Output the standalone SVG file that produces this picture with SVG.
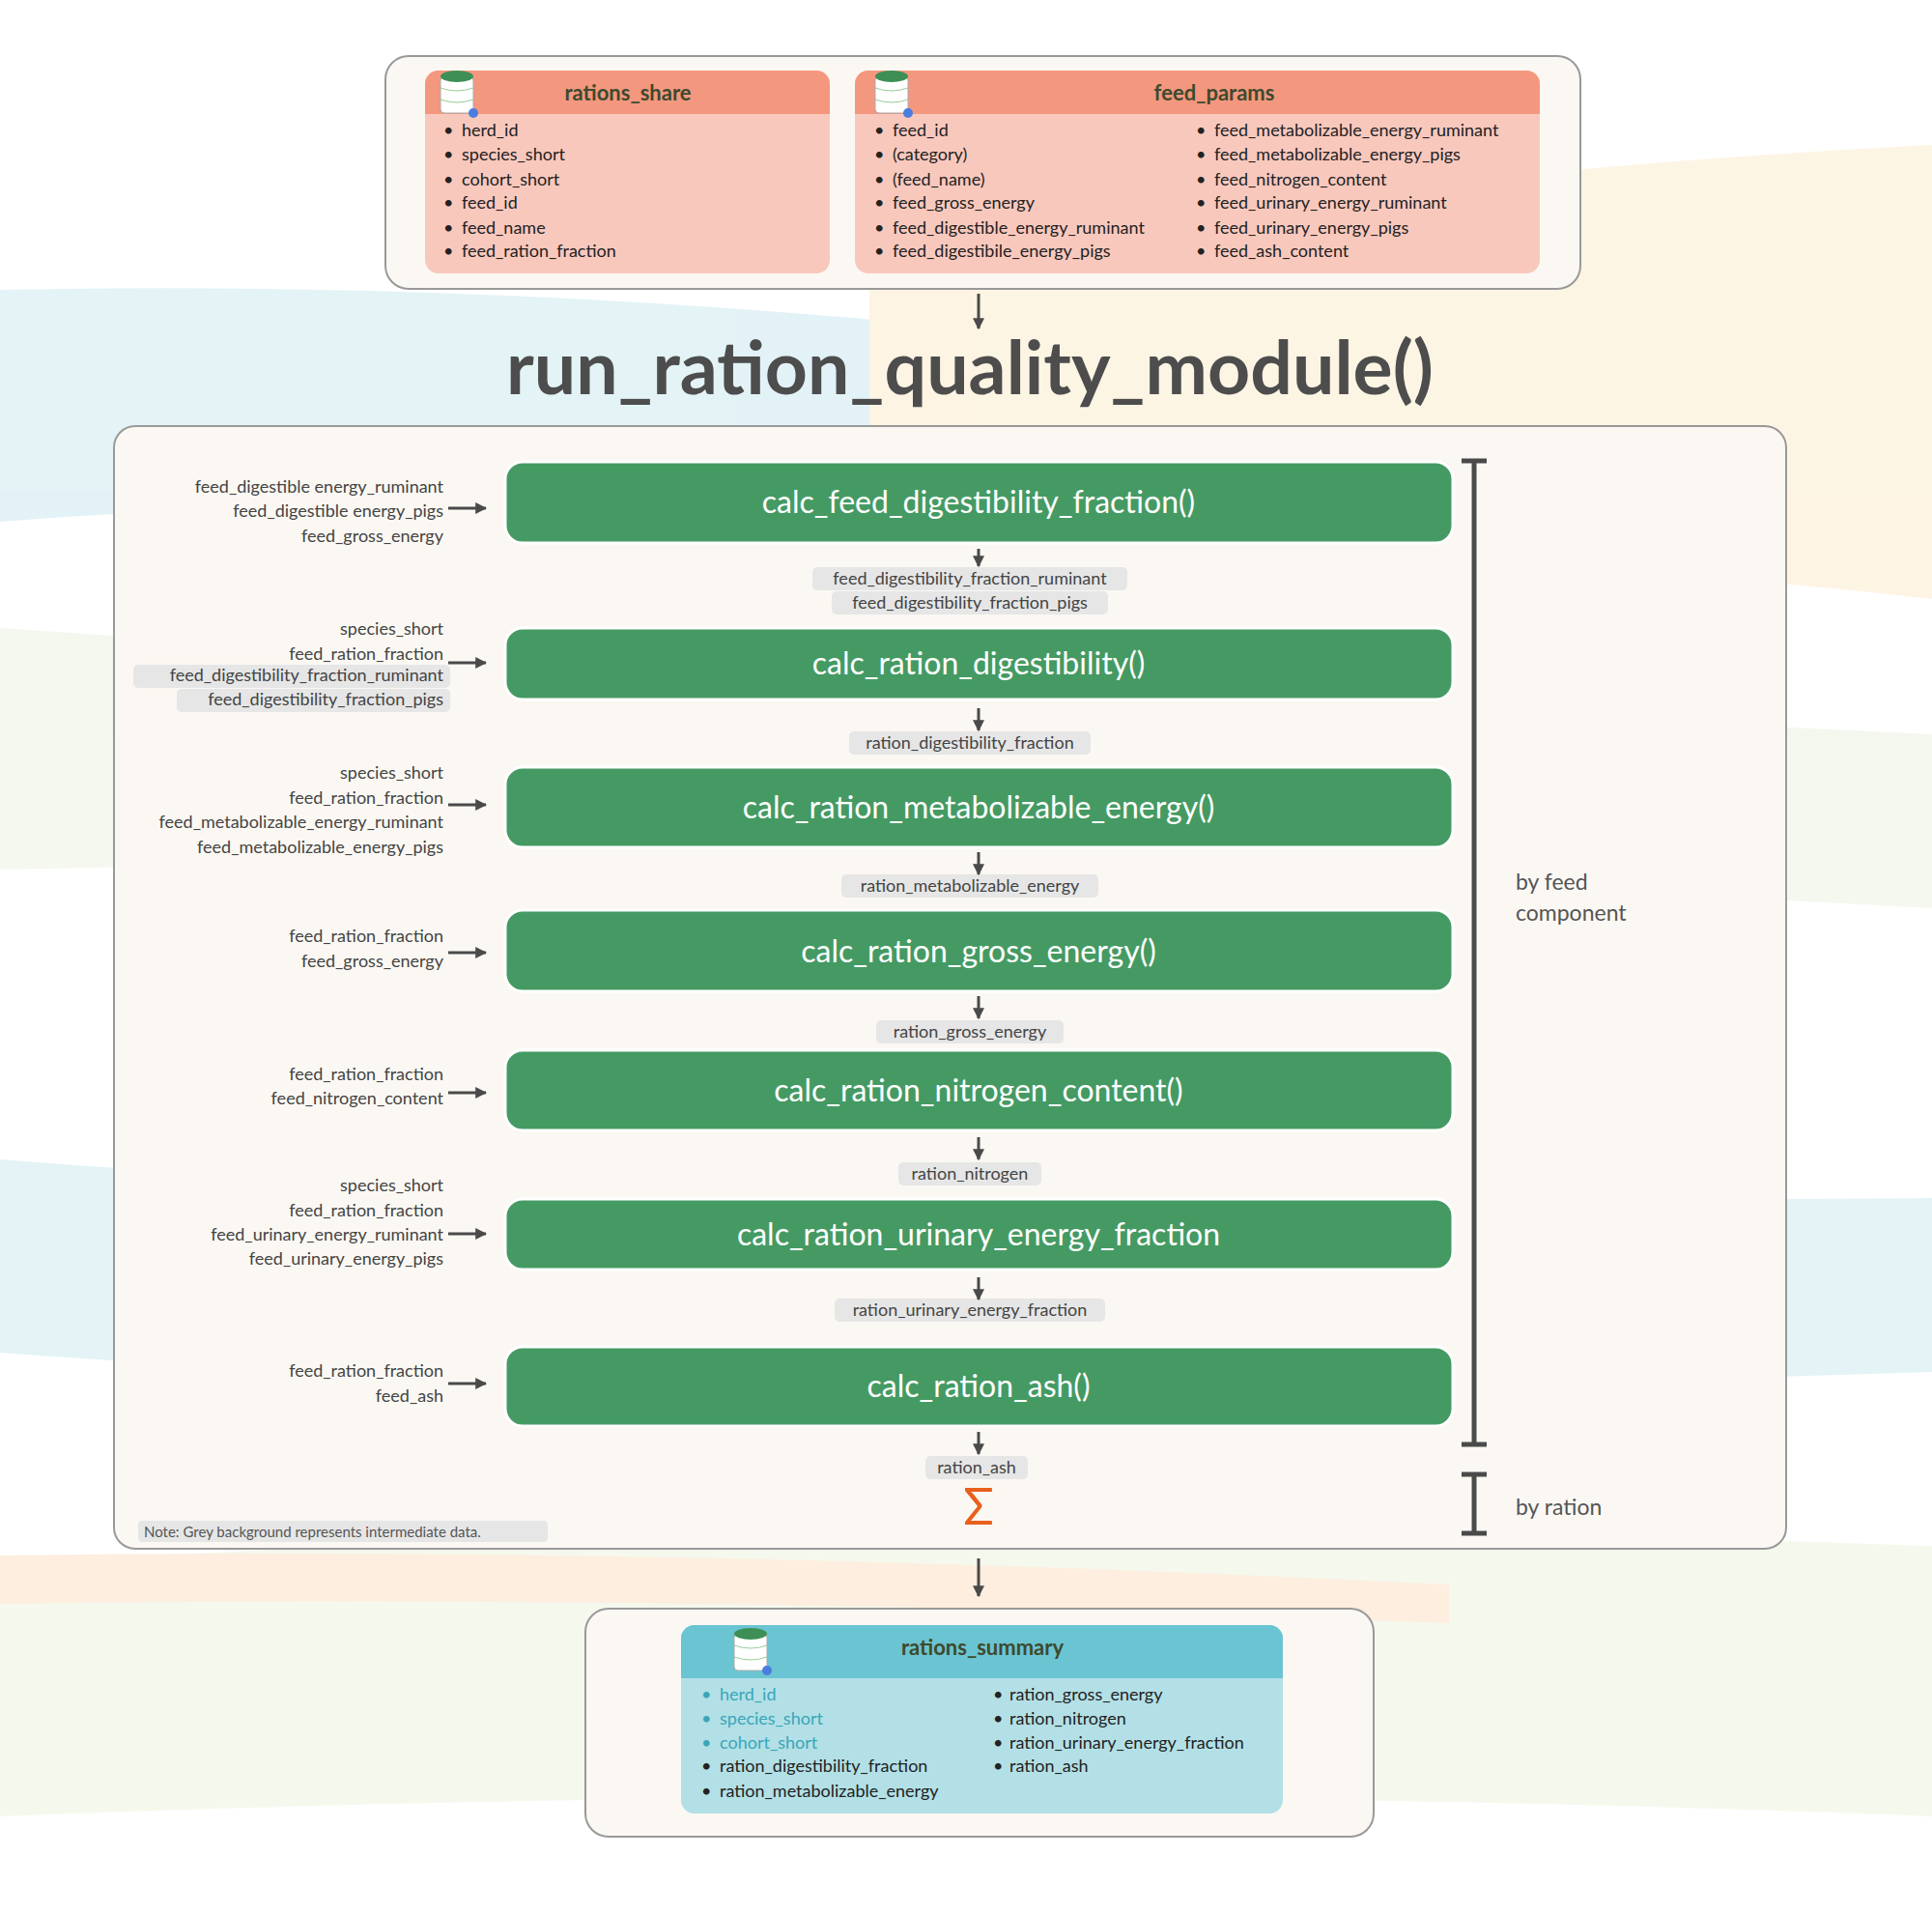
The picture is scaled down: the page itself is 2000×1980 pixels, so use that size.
<svg xmlns="http://www.w3.org/2000/svg" width="2000" height="1980" viewBox="0 0 2000 1980">
<defs>
<style>
text{font-family:Lato,"Noto Sans",sans-serif;}
.it{font-size:18px;fill:#222;}
.in{font-size:18px;fill:#444;text-anchor:end;}
.lbl{font-size:18px;fill:#444;text-anchor:middle;}
.pill{fill:#e6e6e6;}
.fn{font-size:32px;fill:#fff;text-anchor:middle;dominant-baseline:central;}
.hd{font-size:22px;font-weight:bold;fill:#3d4a2e;text-anchor:middle;}
.box{fill:#fbf8f3;stroke:#999;stroke-width:2;}
.green{fill:#459a63;stroke:#fff;stroke-width:3;}
.conn{stroke:#4a4a4a;stroke-width:3;fill:none;}
.side{font-size:23px;fill:#555;}
</style>
<marker id="ah" viewBox="0 0 10 10" refX="9" refY="5" markerWidth="4" markerHeight="4" orient="auto"><path d="M0,0 L10,5 L0,10 z" fill="#4a4a4a"/></marker>
<g id="db">
<rect x="-17" y="-20" width="34" height="38" rx="4" fill="#fff" stroke="#aaa"/>
<ellipse cx="0" cy="-20" rx="17" ry="6" fill="#3d8f55"/>
<path d="M-17,-8 Q0,-2 17,-8 M-17,4 Q0,10 17,4" stroke="#9c9" fill="none"/>
<circle cx="17" cy="18" r="5" fill="#4a7de0"/>
</g>
</defs>
<rect width="2000" height="1980" fill="#fff"/>
<g id="background" opacity="0.8">
<path d="M0,300 Q500,290 1000,340 L1000,560 Q500,500 0,540 Z" fill="#dcf0f4"/>
<path d="M900,280 Q1400,180 2000,150 L2000,620 Q1500,560 900,600 Z" fill="#fdf2dd"/>
<path d="M0,650 Q700,700 2000,760 L2000,940 Q900,880 0,900 Z" fill="#f1f6ea"/>
<path d="M0,1200 Q600,1250 2000,1240 L2000,1420 Q800,1460 0,1400 Z" fill="#dcf0f4"/>
<path d="M0,1620 Q900,1560 2000,1600 L2000,1880 Q1000,1840 0,1880 Z" fill="#f3f7e9"/>
<path d="M0,1610 Q700,1600 1500,1640 L1500,1680 Q700,1650 0,1660 Z" fill="#fdebd8"/>
</g>
<g id="inputs">
<rect class="box" x="399" y="58" width="1237" height="241" rx="24"/>
<g id="rations_share">
<rect x="440" y="73" width="419" height="210" rx="14" fill="#f9c8bd"/>
<path d="M440,118 V87 a14,14 0 0 1 14,-14 H845 a14,14 0 0 1 14,14 V118 Z" fill="#f4977f"/>
<use href="#db" x="473" y="99"/>
<text class="hd" x="650" y="104">rations_share</text>
<g class="it">
<text x="459" y="141">•</text><text x="478" y="141">herd_id</text>
<text x="459" y="166">•</text><text x="478" y="166">species_short</text>
<text x="459" y="192">•</text><text x="478" y="192">cohort_short</text>
<text x="459" y="216">•</text><text x="478" y="216">feed_id</text>
<text x="459" y="242">•</text><text x="478" y="242">feed_name</text>
<text x="459" y="266">•</text><text x="478" y="266">feed_ration_fraction</text>
</g>
</g>
<g id="feed_params">
<rect x="885" y="73" width="709" height="210" rx="14" fill="#f9c8bd"/>
<path d="M885,118 V87 a14,14 0 0 1 14,-14 H1580 a14,14 0 0 1 14,14 V118 Z" fill="#f4977f"/>
<use href="#db" x="923" y="99"/>
<text class="hd" x="1257" y="104">feed_params</text>
<g class="it">
<text x="905" y="141">•</text><text x="924" y="141">feed_id</text>
<text x="905" y="166">•</text><text x="924" y="166">(category)</text>
<text x="905" y="192">•</text><text x="924" y="192">(feed_name)</text>
<text x="905" y="216">•</text><text x="924" y="216">feed_gross_energy</text>
<text x="905" y="242">•</text><text x="924" y="242">feed_digestible_energy_ruminant</text>
<text x="905" y="266">•</text><text x="924" y="266">feed_digestibile_energy_pigs</text>
<text x="1238" y="141">•</text><text x="1257" y="141">feed_metabolizable_energy_ruminant</text>
<text x="1238" y="166">•</text><text x="1257" y="166">feed_metabolizable_energy_pigs</text>
<text x="1238" y="192">•</text><text x="1257" y="192">feed_nitrogen_content</text>
<text x="1238" y="216">•</text><text x="1257" y="216">feed_urinary_energy_ruminant</text>
<text x="1238" y="242">•</text><text x="1257" y="242">feed_urinary_energy_pigs</text>
<text x="1238" y="266">•</text><text x="1257" y="266">feed_ash_content</text>
</g>
</g>
</g>
<text id="title" x="1004" y="408" font-size="77" font-weight="bold" fill="#4d4d4d" text-anchor="middle">run_ration_quality_module()</text>
<g id="module">
<rect class="box" x="118" y="441" width="1731" height="1162" rx="22"/>
<g id="f1"><rect class="green" x="523" y="478" width="981" height="84" rx="18"/><text class="fn" x="1013" y="518">calc_feed_digestibility_fraction()</text></g>
<g id="f2"><rect class="green" x="523" y="650" width="981" height="74" rx="18"/><text class="fn" x="1013" y="685">calc_ration_digestibility()</text></g>
<g id="f3"><rect class="green" x="523" y="794" width="981" height="83" rx="18"/><text class="fn" x="1013" y="834">calc_ration_metabolizable_energy()</text></g>
<g id="f4"><rect class="green" x="523" y="942" width="981" height="84" rx="18"/><text class="fn" x="1013" y="983">calc_ration_gross_energy()</text></g>
<g id="f5"><rect class="green" x="523" y="1087" width="981" height="83" rx="18"/><text class="fn" x="1013" y="1127">calc_ration_nitrogen_content()</text></g>
<g id="f6"><rect class="green" x="523" y="1241" width="981" height="73" rx="18"/><text class="fn" x="1013" y="1276">calc_ration_urinary_energy_fraction</text></g>
<g id="f7"><rect class="green" x="523" y="1394" width="981" height="82" rx="18"/><text class="fn" x="1013" y="1433">calc_ration_ash()</text></g>
<g id="inputs-left">
<text class="in" x="459" y="510">feed_digestible energy_ruminant</text>
<text class="in" x="459" y="535">feed_digestible energy_pigs</text>
<text class="in" x="459" y="561">feed_gross_energy</text>
<text class="in" x="459" y="657">species_short</text>
<text class="in" x="459" y="683">feed_ration_fraction</text>
<rect class="pill" x="138" y="688" width="328" height="24" rx="5"/>
<rect class="pill" x="183" y="713" width="283" height="24" rx="5"/>
<text class="in" x="459" y="705">feed_digestibility_fraction_ruminant</text>
<text class="in" x="459" y="730">feed_digestibility_fraction_pigs</text>
<text class="in" x="459" y="806">species_short</text>
<text class="in" x="459" y="832">feed_ration_fraction</text>
<text class="in" x="459" y="857">feed_metabolizable_energy_ruminant</text>
<text class="in" x="459" y="883">feed_metabolizable_energy_pigs</text>
<text class="in" x="459" y="975">feed_ration_fraction</text>
<text class="in" x="459" y="1001">feed_gross_energy</text>
<text class="in" x="459" y="1118">feed_ration_fraction</text>
<text class="in" x="459" y="1143">feed_nitrogen_content</text>
<text class="in" x="459" y="1233">species_short</text>
<text class="in" x="459" y="1259">feed_ration_fraction</text>
<text class="in" x="459" y="1284">feed_urinary_energy_ruminant</text>
<text class="in" x="459" y="1309">feed_urinary_energy_pigs</text>
<text class="in" x="459" y="1425">feed_ration_fraction</text>
<text class="in" x="459" y="1451">feed_ash</text>
</g>
<g id="intermediates">
<rect class="pill" x="841" y="587" width="326" height="24" rx="5"/>
<rect class="pill" x="861" y="612" width="286" height="24" rx="5"/>
<text class="lbl" x="1004" y="605">feed_digestibility_fraction_ruminant</text>
<text class="lbl" x="1004" y="630">feed_digestibility_fraction_pigs</text>
<rect class="pill" x="879" y="757" width="250" height="24" rx="5"/>
<text class="lbl" x="1004" y="775">ration_digestibility_fraction</text>
<rect class="pill" x="871" y="905" width="266" height="24" rx="5"/>
<text class="lbl" x="1004" y="923">ration_metabolizable_energy</text>
<rect class="pill" x="907" y="1056" width="194" height="24" rx="5"/>
<text class="lbl" x="1004" y="1074">ration_gross_energy</text>
<rect class="pill" x="930" y="1203" width="148" height="24" rx="5"/>
<text class="lbl" x="1004" y="1221">ration_nitrogen</text>
<rect class="pill" x="864" y="1344" width="280" height="24" rx="5"/>
<text class="lbl" x="1004" y="1362">ration_urinary_energy_fraction</text>
<rect class="pill" x="958" y="1507" width="106" height="24" rx="5"/>
<text class="lbl" x="1011" y="1525">ration_ash</text>
<text x="1013" y="1578" font-size="52" fill="#e8601c" text-anchor="middle" font-family="DejaVu Sans">Σ</text>
</g>
<rect class="pill" x="143" y="1574" width="424" height="22" rx="4"/>
<text x="149" y="1591" font-size="15" fill="#555">Note: Grey background represents intermediate data.</text>
<g id="brackets" stroke="#4a4a4a" stroke-width="5" fill="none">
<path d="M1526,477 V1495 M1513,477 H1539 M1513,1495 H1539"/>
<path d="M1526,1526 V1587 M1513,1526 H1539 M1513,1587 H1539"/>
</g>
<text class="side" x="1569" y="921">by feed</text>
<text class="side" x="1569" y="953">component</text>
<text class="side" x="1569" y="1568">by ration</text>
</g>
<g id="connectors">
<path class="conn" d="M1013,304 V340" stroke-width="6" marker-end="url(#ah)"/>
<path class="conn" d="M464,526 H503" marker-end="url(#ah)"/>
<path class="conn" d="M464,686 H503" marker-end="url(#ah)"/>
<path class="conn" d="M464,833 H503" marker-end="url(#ah)"/>
<path class="conn" d="M464,986 H503" marker-end="url(#ah)"/>
<path class="conn" d="M464,1131 H503" marker-end="url(#ah)"/>
<path class="conn" d="M464,1277 H503" marker-end="url(#ah)"/>
<path class="conn" d="M464,1432 H503" marker-end="url(#ah)"/>
<path class="conn" d="M1013,568 V586" stroke-width="2.5" marker-end="url(#ah)"/>
<path class="conn" d="M1013,733 V756" stroke-width="2.5" marker-end="url(#ah)"/>
<path class="conn" d="M1013,882 V905" stroke-width="2.5" marker-end="url(#ah)"/>
<path class="conn" d="M1013,1031 V1054" stroke-width="2.5" marker-end="url(#ah)"/>
<path class="conn" d="M1013,1177 V1200" stroke-width="2.5" marker-end="url(#ah)"/>
<path class="conn" d="M1013,1322 V1345" stroke-width="2.5" marker-end="url(#ah)"/>
<path class="conn" d="M1013,1482 V1505" stroke-width="2.5" marker-end="url(#ah)"/>
<path class="conn" d="M1013,1613 V1652" stroke-width="8" marker-end="url(#ah)"/>
</g>
<g id="output">
<rect class="box" x="606" y="1665" width="816" height="236" rx="24"/>
<g id="rations_summary">
<rect x="705" y="1682" width="623" height="195" rx="14" fill="#b2e0e6"/>
<path d="M705,1737 V1696 a14,14 0 0 1 14,-14 H1314 a14,14 0 0 1 14,14 V1737 Z" fill="#6bc4d1"/>
<use href="#db" x="777" y="1711"/>
<text class="hd" x="1017" y="1713">rations_summary</text>
<g class="it">
<text x="726" y="1760" fill="#3aa6b9">•</text><text x="745" y="1760" fill="#3aa6b9">herd_id</text>
<text x="726" y="1785" fill="#3aa6b9">•</text><text x="745" y="1785" fill="#3aa6b9">species_short</text>
<text x="726" y="1810" fill="#3aa6b9">•</text><text x="745" y="1810" fill="#3aa6b9">cohort_short</text>
<text x="726" y="1834">•</text><text x="745" y="1834">ration_digestibility_fraction</text>
<text x="726" y="1860">•</text><text x="745" y="1860">ration_metabolizable_energy</text>
<text x="1028" y="1760">•</text><text x="1045" y="1760">ration_gross_energy</text>
<text x="1028" y="1785">•</text><text x="1045" y="1785">ration_nitrogen</text>
<text x="1028" y="1810">•</text><text x="1045" y="1810">ration_urinary_energy_fraction</text>
<text x="1028" y="1834">•</text><text x="1045" y="1834">ration_ash</text>
</g>
</g>
</g>
</svg>
